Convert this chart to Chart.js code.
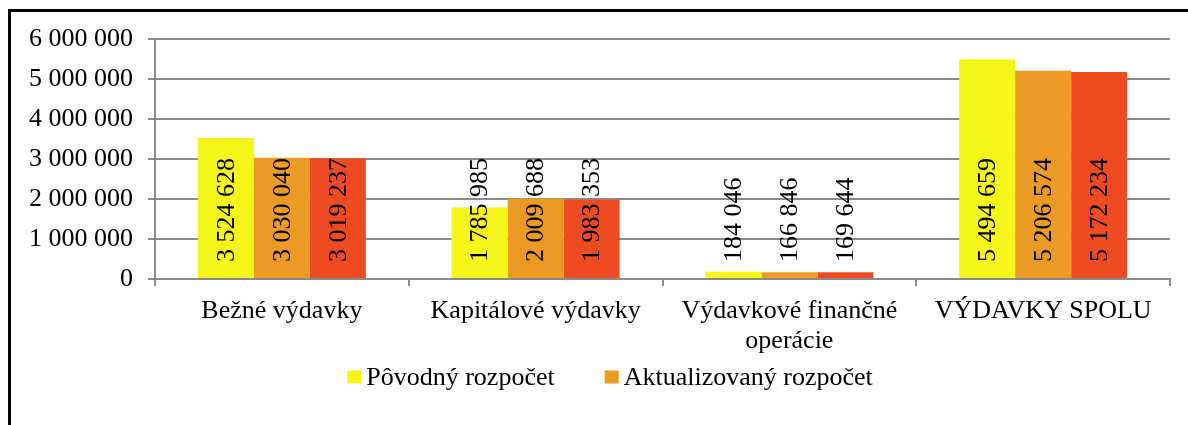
<!DOCTYPE html>
<html>
<head>
<meta charset="utf-8">
<script src="https://cdn.jsdelivr.net/npm/chart.js@4.4.1/dist/chart.umd.min.js"></script>
<style>
  html, body { margin: 0; padding: 0; background: #fff; }
  #wrap { position: relative; width: 1188px; height: 425px; }
</style>
</head>
<body>
<div id="wrap"><canvas id="chart"></canvas></div>
<script>
// kategórie a hodnoty (EUR)
const categories = [
    "Bežné výdavky",
    "Kapitálové výdavky",
    ["Výdavkové finančné", "operácie"],
    "VÝDAVKY SPOLU"
];
const povodny = [3524628, 1785985, 184046, 5494659];
const aktualizovany = [3030040, 2009688, 166846, 5206574];
const skutocnost = [3019237, 1983353, 169644, 5172234];
const yTicks = [0, 1000000, 2000000, 3000000, 4000000, 5000000, 6000000];

const FONT = "'Liberation Serif', 'Times New Roman', serif";
const GRID = "#8a8a8a";

function fmt(v) {
    return String(v).replace(/\B(?=(\d{3})+(?!\d))/g, " ");
}

// rámček okolo grafu (horný a ľavý okraj)
const framePlugin = {
    id: "frame",
    beforeDraw(chart) {
        let ctx = chart.ctx;
        ctx.save();
        ctx.strokeStyle = "#000";
        ctx.lineWidth = 3;
        ctx.beginPath();
        ctx.moveTo(9.5, 425);
        ctx.lineTo(9.5, 10.5);
        ctx.lineTo(1188, 10.5);
        ctx.stroke();
        ctx.restore();
    }
};

// hodnoty otočené o 90° pri spodku stĺpca
const valuePlugin = {
    id: "values",
    afterDatasetsDraw(chart) {
        let ctx = chart.ctx;
        let base = chart.scales.y.getPixelForValue(0);
        ctx.save();
        ctx.font = "26px " + FONT;
        ctx.fillStyle = "#000";
        ctx.textAlign = "left";
        ctx.textBaseline = "middle";
        chart.data.datasets.forEach((ds, i) => {
            chart.getDatasetMeta(i).data.forEach((bar, j) => {
                ctx.save();
                ctx.translate(bar.x, base - 17);
                ctx.rotate(-Math.PI / 2);
                ctx.fillText(fmt(ds.data[j]), 0, 1);
                ctx.restore();
            });
        });
        ctx.restore();
    }
};

// legenda - len prvé dva rady, ako v pôvodnom grafe
const legendPlugin = {
    id: "simpleLegend",
    afterDraw(chart) {
        let ctx = chart.ctx;
        let items = chart.data.datasets.slice(0, 2);
        let box = 14, gap = 5, spacing = 50;
        ctx.save();
        ctx.font = "26px " + FONT;
        ctx.textBaseline = "middle";
        ctx.textAlign = "left";
        let widths = items.map(ds => box + gap + ctx.measureText(ds.label).width);
        let total = widths.reduce((a, b) => a + b, 0) + spacing * (items.length - 1);
        let x = 610 - total / 2;
        let y = 377;
        items.forEach((ds, i) => {
            ctx.fillStyle = ds.backgroundColor;
            ctx.fillRect(x, y - 6.5, box, 13);
            ctx.fillStyle = "#000";
            ctx.fillText(ds.label, x + box + gap, y + 1);
            x += widths[i] + spacing;
        });
        ctx.restore();
    }
};

new Chart(document.getElementById("chart"), {
    type: "bar",
    data: {
        labels: categories,
        datasets: [
            { label: "Pôvodný rozpočet", data: povodny, backgroundColor: "#F5F51A" },
            { label: "Aktualizovaný rozpočet", data: aktualizovany, backgroundColor: "#EB9A23" },
            { label: "Skutočnosť", data: skutocnost, backgroundColor: "#EE4B22" }
        ]
    },
    options: {
        responsive: true,
        maintainAspectRatio: false,
        animation: false,
        layout: { padding: { top: 39, right: 18, bottom: 56, left: 0 } },
        datasets: { bar: { categoryPercentage: 0.662, barPercentage: 1 } },
        plugins: {
            tooltip: { enabled: false },
            legend: { display: false }
        },
        scales: {
            x: {
                grid: { display: true, drawOnChartArea: false, color: GRID, lineWidth: 2, tickLength: 7, offset: true },
                border: { color: GRID, width: 2 },
                ticks: { font: { family: FONT, size: 26, lineHeight: 1.15 }, color: "#000", padding: 10, maxRotation: 0 },
                afterFit(scale) { scale.height = 90; }
            },
            y: {
                min: 0,
                max: 6000000,
                afterBuildTicks(scale) { scale.ticks = yTicks.map(v => ({ value: v })); },
                grid: { color: GRID, lineWidth: 2, tickLength: 7 },
                border: { color: GRID, width: 2 },
                ticks: { font: { family: FONT, size: 26 }, color: "#000", padding: 15, callback: v => fmt(v) },
                afterFit(scale) { scale.width = 155; }
            }
        }
    },
    plugins: [framePlugin, valuePlugin, legendPlugin]
});
</script>
</body>
</html>
